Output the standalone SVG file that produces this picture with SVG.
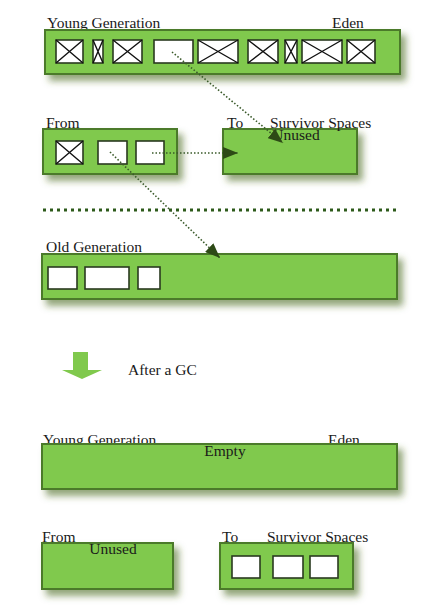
<svg xmlns="http://www.w3.org/2000/svg" width="429" height="612" viewBox="0 0 429 612">
<defs>
<filter id="sh" x="-10%" y="-30%" width="130%" height="180%">
<feGaussianBlur in="SourceAlpha" stdDeviation="3.5"/>
<feOffset dx="5" dy="6" result="b"/>
<feFlood flood-color="#4a6a20" flood-opacity="0.6"/>
<feComposite in2="b" operator="in"/>
<feMerge><feMergeNode/><feMergeNode in="SourceGraphic"/></feMerge>
</filter>
<marker id="ah" viewBox="0 0 15 12" refX="15" refY="6" markerWidth="15" markerHeight="12" markerUnits="userSpaceOnUse" orient="auto">
<path d="M0,0 L15,6 L0,12 z" fill="#2d4a16"/>
</marker>
</defs>
<style>
text{font-family:"Liberation Serif","Times New Roman",serif;font-size:15.5px;fill:#1a1a1a}
.area{fill:#80c94d;stroke:#4b7a2a;stroke-width:2;filter:url(#sh)}
.obj{fill:#ffffff;stroke:#2a3a20;stroke-width:1.6}
.x{stroke:#111;stroke-width:1.4}
.dot{stroke:#3a5a2a;stroke-width:1.6;stroke-dasharray:1.5 2;fill:none}
</style>
<rect width="429" height="612" fill="#ffffff"/>

<g id="young-before">
<text x="47" y="28">Young Generation</text>
<text x="332" y="28">Eden</text>
<rect class="area" x="45" y="30" width="355" height="44"/>
<g id="eden-objects">
<rect class="obj" x="56" y="40" width="27" height="23"/><path class="x" d="M56,40L83,63M83,40L56,63"/>
<rect class="obj" x="93" y="40" width="10" height="23"/><path class="x" d="M93,40L103,63M103,40L93,63"/>
<rect class="obj" x="113" y="40" width="29" height="23"/><path class="x" d="M113,40L142,63M142,40L113,63"/>
<rect class="obj" x="154" y="40" width="39" height="23"/>
<rect class="obj" x="198" y="40" width="40" height="23"/><path class="x" d="M198,40L238,63M238,40L198,63"/>
<rect class="obj" x="248" y="40" width="30" height="23"/><path class="x" d="M248,40L278,63M278,40L248,63"/>
<rect class="obj" x="285" y="40" width="12" height="23"/><path class="x" d="M285,40L297,63M297,40L285,63"/>
<rect class="obj" x="302" y="40" width="40" height="23"/><path class="x" d="M302,40L342,63M342,40L302,63"/>
<rect class="obj" x="347" y="40" width="28" height="23"/><path class="x" d="M347,40L375,63M375,40L347,63"/>
</g>
</g>

<g id="from-before">
<text x="46" y="128">From</text>
<rect class="area" x="43" y="129" width="134" height="45"/>
<rect class="obj" x="56" y="141" width="27" height="23"/><path class="x" d="M56,141L83,164M83,141L56,164"/>
<rect class="obj" x="98" y="141" width="29" height="23"/>
<rect class="obj" x="136" y="141" width="28" height="23"/>
</g>

<g id="to-before">
<rect class="area" x="223" y="129" width="134" height="45"/>
<text x="227" y="128">To</text>
<text x="270" y="128">Survivor Spaces</text>
<text x="296" y="140" text-anchor="middle">Unused</text>
</g>

<g id="old-gen">
<text x="46" y="252">Old Generation</text>
<rect class="area" x="42" y="254" width="355" height="45"/>
<rect class="obj" x="48" y="267" width="29" height="22"/>
<rect class="obj" x="85" y="267" width="44" height="22"/>
<rect class="obj" x="138" y="267" width="22" height="22"/>
</g>

<g id="after-label">
<path d="M73,352 H88 V370 H102 L82,379 L62,370 H73 Z" fill="#80c94d"/>
<text x="128" y="375">After a GC</text>
</g>

<g id="young-after">
<text x="43" y="445">Young Generation</text>
<text x="328" y="445">Eden</text>
<rect class="area" x="42" y="444" width="355" height="45"/>
<text x="225" y="456" text-anchor="middle">Empty</text>
</g>

<g id="from-after">
<text x="42" y="542">From</text>
<rect class="area" x="42" y="543" width="131" height="46"/>
<text x="113" y="554" text-anchor="middle">Unused</text>
</g>

<g id="to-after">
<text x="222" y="542">To</text>
<text x="267" y="542">Survivor Spaces</text>
<rect class="area" x="220" y="543" width="133" height="46"/>
<rect class="obj" x="232" y="556" width="28" height="22"/>
<rect class="obj" x="273" y="556" width="30" height="22"/>
<rect class="obj" x="310" y="556" width="28" height="22"/>
</g>

<g id="connectors">
<line x1="43" y1="210" x2="400" y2="210" stroke="#2d5a1a" stroke-width="3" stroke-dasharray="3 4"/>
<line class="dot" x1="172" y1="52" x2="283" y2="143" marker-end="url(#ah)"/>
<line class="dot" x1="152" y1="153" x2="238" y2="153" marker-end="url(#ah)"/>
<line class="dot" x1="110" y1="152" x2="220" y2="258" marker-end="url(#ah)"/>
</g>
</svg>
